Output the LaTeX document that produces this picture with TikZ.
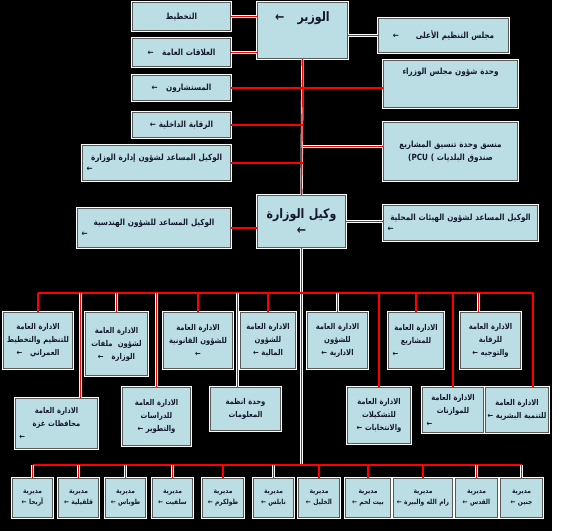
\documentclass[tikz,border=0pt]{standalone}
\usepackage{fontspec}
\newfontfamily\arabicfont[Script=Arabic, FakeStretch=0.85]{DejaVu Sans}
\TeXXeTstate=1
\definecolor{cell}{RGB}{187,222,228}
\definecolor{ink}{RGB}{22,24,48}
\newcommand{\rtl}[1]{\beginR #1\endR}
\newcommand{\tipleft}{\makebox[\linewidth][l]{\hspace{4pt}←}}
\tikzset{
  unit/.style 2 args={anchor=north west, draw=black!65, line width=1pt, fill=cell, text=ink,
    inner xsep=0pt, inner ysep=1pt, text width=#1, minimum height=#2, align=center,
    font=\arabicfont\bfseries\fontsize{8.5}{11}\selectfont, preaction={draw=white, line width=3pt}},
  dense/.style={font=\arabicfont\bfseries\fontsize{8}{13}\selectfont},
  tiny/.style={font=\arabicfont\bfseries\fontsize{7}{11}\selectfont},
  big/.style={font=\arabicfont\bfseries\fontsize{13}{16}\selectfont},
  link/.style={draw=white, double=red, double distance=1.2pt, line width=0.6pt}
}
\begin{document}
\begin{tikzpicture}[x=1pt,y=-1pt]
\useasboundingbox (0,0) rectangle (565,531);
\fill[white] (0,0) rectangle (565,531);
\fill[black] (0,0) rectangle (552,531);

\node[unit={90pt}{56pt}, big] (minister) at (257,2) {\rtl{الوزير\quad ←}\\[12pt]\mbox{}};
\node[unit={88pt}{52pt}, big] (deputy) at (257,195) {\rtl{وكيل الوزارة}\\ ←};

\node[unit={98pt}{28pt}] (plan) at (132,2) {\rtl{التخطيط}};
\node[unit={98pt}{28pt}] (pr) at (132,38) {\rtl{العلاقات العامة\quad ←}};
\node[unit={98pt}{25pt}] (advisers) at (132,75) {\rtl{المستشارون\quad ←}};
\node[unit={98pt}{25pt}] (audit) at (132,112) {\rtl{الرقابة الداخلية ←}};
\node[unit={148pt}{35pt}] (office) at (82,145) {\rtl{الوكيل المساعد لشؤون إدارة الوزارة}\\ \tipleft};
\node[unit={153pt}{39pt}] (eng) at (77,208) {\rtl{الوكيل المساعد للشؤون الهندسية}\\ \tipleft};

\node[unit={130pt}{34pt}] (council) at (378,18) {\rtl{مجلس التنظيم الأعلى\qquad ←}};
\node[unit={134pt}{47pt}] (cabinet) at (383,60) {\rtl{وحدة شؤون مجلس الوزراء}\\[14pt]\mbox{}};
\node[unit={134pt}{58pt}] (pcu) at (383,122) {\rtl{منسق وحدة تنسيق المشاريع}\\[2pt] \rtl{صندوق البلديات \beginL(PCU )\endL}};
\node[unit={154pt}{35pt}] (local) at (383,205) {\rtl{الوكيل المساعد لشؤون الهيئات المحلية}\\ \tipleft};

\node[unit={69pt}{56pt}, dense] (urban) at (3,312) {\rtl{الادارة العامة}\\ \rtl{للتنظيم والتخطيط}\\ \rtl{العمراني\quad ←}};
\node[unit={62pt}{63pt}, dense] (files) at (85,312) {\rtl{الادارة العامة}\\ \rtl{لشؤون\ \ ملفات}\\ \rtl{الوزارة\quad ←}};
\node[unit={69pt}{56pt}, dense] (legal) at (163,312) {\rtl{الادارة العامة}\\ \rtl{للشؤون القانونية}\\ ←};
\node[unit={55pt}{56pt}, dense] (finance) at (240,312) {\rtl{الادارة العامة}\\ \rtl{للشؤون}\\ \rtl{المالية ←}};
\node[unit={60pt}{56pt}, dense] (affairs) at (307,312) {\rtl{الادارة العامة}\\ \rtl{للشؤون}\\ \rtl{الادارية ←}};
\node[unit={55pt}{56pt}, dense] (projects) at (388,312) {\rtl{الادارة العامة}\\ \rtl{للمشاريع}\\ \tipleft};
\node[unit={60pt}{56pt}, dense] (control) at (460,312) {\rtl{الادارة العامة}\\ \rtl{للرقابة}\\ \rtl{والتوجيه ←}};

\node[unit={82pt}{50pt}, dense] (gaza) at (15,398) {\rtl{الادارة العامة}\\ \rtl{محافظات غزة}\\ \tipleft};
\node[unit={68pt}{58pt}, dense] (studies) at (122,387) {\rtl{الادارة العامة}\\ \rtl{للدراسات}\\ \rtl{والتطوير ←}};
\node[unit={70pt}{43pt}, dense] (info) at (210,387) {\rtl{وحدة انظمة}\\ \rtl{المعلومات}};
\node[unit={63pt}{56pt}, dense] (elections) at (347,387) {\rtl{الادارة العامة}\\ \rtl{للتشكيلات}\\ \rtl{والانتخابات ←}};
\node[unit={61pt}{45pt}, dense] (budget) at (422,387) {\rtl{الادارة العامة}\\ \rtl{للموازنات}\\ \tipleft};
\node[unit={63pt}{45pt}, dense] (hr) at (485,387) {\rtl{الادارة العامة}\\ \rtl{للتنمية البشرية ←}};

\node[unit={40pt}{39pt}, tiny] (jericho) at (12,478) {\rtl{مديرية}\\ \rtl{أريحا ←}};
\node[unit={40pt}{39pt}, tiny] (qalqilya) at (58,478) {\rtl{مديرية}\\ \rtl{قلقيلية ←}};
\node[unit={40pt}{39pt}, tiny] (tubas) at (105,478) {\rtl{مديرية}\\ \rtl{طوباس ←}};
\node[unit={40pt}{39pt}, tiny] (salfit) at (152,478) {\rtl{مديرية}\\ \rtl{سلفيت ←}};
\node[unit={41pt}{39pt}, tiny] (tulkarm) at (202,478) {\rtl{مديرية}\\ \rtl{طولكرم ←}};
\node[unit={40pt}{39pt}, tiny] (nablus) at (253,478) {\rtl{مديرية}\\ \rtl{نابلس ←}};
\node[unit={41pt}{39pt}, tiny] (hebron) at (298,478) {\rtl{مديرية}\\ \rtl{الخليل ←}};
\node[unit={45pt}{39pt}, tiny] (bethlehem) at (345,478) {\rtl{مديرية}\\ \rtl{بيت لحم ←}};
\node[unit={59pt}{39pt}, tiny] (ramallah) at (393,478) {\rtl{مديرية}\\ \rtl{رام الله والبيرة ←}};
\node[unit={42pt}{39pt}, tiny] (quds) at (455,478) {\rtl{مديرية}\\ \rtl{القدس ←}};
\node[unit={42pt}{39pt}, tiny] (jenin) at (500,478) {\rtl{مديرية}\\ \rtl{جنين ←}};

\coordinate (midbus) at (0,293);
\coordinate (lowbus) at (0,465);

\draw[link] (plan.east) -- (plan.east -| minister.west);
\draw[link] (pr.east) -- (pr.east -| minister.west);
\draw[link] (council.west) -- (council.west -| minister.east);
\draw[link] (minister.south) -- (deputy.north);
\draw[link] (advisers.east) -- (advisers.east -| cabinet.west);
\draw[link] (audit.east) -- (audit.east -| minister.south);
\draw[link] ([yshift=5pt]pcu.west) -- ([yshift=5pt]pcu.west -| minister.south);
\draw[link] (office.east) -- (office.east -| minister.south);
\draw[link] (eng.east) -- (eng.east -| deputy.west);
\draw[link] (deputy.east) -- (deputy.east -| local.west);
\draw[link] (deputy.south) -- (deputy.south |- lowbus);

\draw[link] (urban.north |- midbus) -- ([xshift=16pt]hr.north |- midbus);
\draw[link] (urban.north |- midbus) -- (urban.north);
\draw[link] (files.north |- midbus) -- (files.north);
\draw[link] (legal.north |- midbus) -- (legal.north);
\draw[link] (finance.north |- midbus) -- (finance.north);
\draw[link] (affairs.north |- midbus) -- (affairs.north);
\draw[link] (projects.north |- midbus) -- (projects.north);
\draw[link] ([xshift=-12pt]control.north |- midbus) -- ([xshift=-12pt]control.north);
\draw[link] ([xshift=24pt]gaza.north |- midbus) -- ([xshift=24pt]gaza.north);
\draw[link] (studies.north |- midbus) -- (studies.north);
\draw[link] ([xshift=-8pt]info.north |- midbus) -- ([xshift=-8pt]info.north);
\draw[link] (elections.north |- midbus) -- (elections.north);
\draw[link] (budget.north |- midbus) -- (budget.north);
\draw[link] ([xshift=16pt]hr.north |- midbus) -- ([xshift=16pt]hr.north);

\draw[link] (jericho.north |- lowbus) -- (jenin.north |- lowbus);
\draw[link] (jericho.north |- lowbus) -- (jericho.north);
\draw[link] (qalqilya.north |- lowbus) -- (qalqilya.north);
\draw[link] (tubas.north |- lowbus) -- (tubas.north);
\draw[link] (salfit.north |- lowbus) -- (salfit.north);
\draw[link] (tulkarm.north |- lowbus) -- (tulkarm.north);
\draw[link] (nablus.north |- lowbus) -- (nablus.north);
\draw[link] (hebron.north |- lowbus) -- (hebron.north);
\draw[link] (bethlehem.north |- lowbus) -- (bethlehem.north);
\draw[link] (ramallah.north |- lowbus) -- (ramallah.north);
\draw[link] (quds.north |- lowbus) -- (quds.north);
\draw[link] (jenin.north |- lowbus) -- (jenin.north);
\end{tikzpicture}
\end{document}
